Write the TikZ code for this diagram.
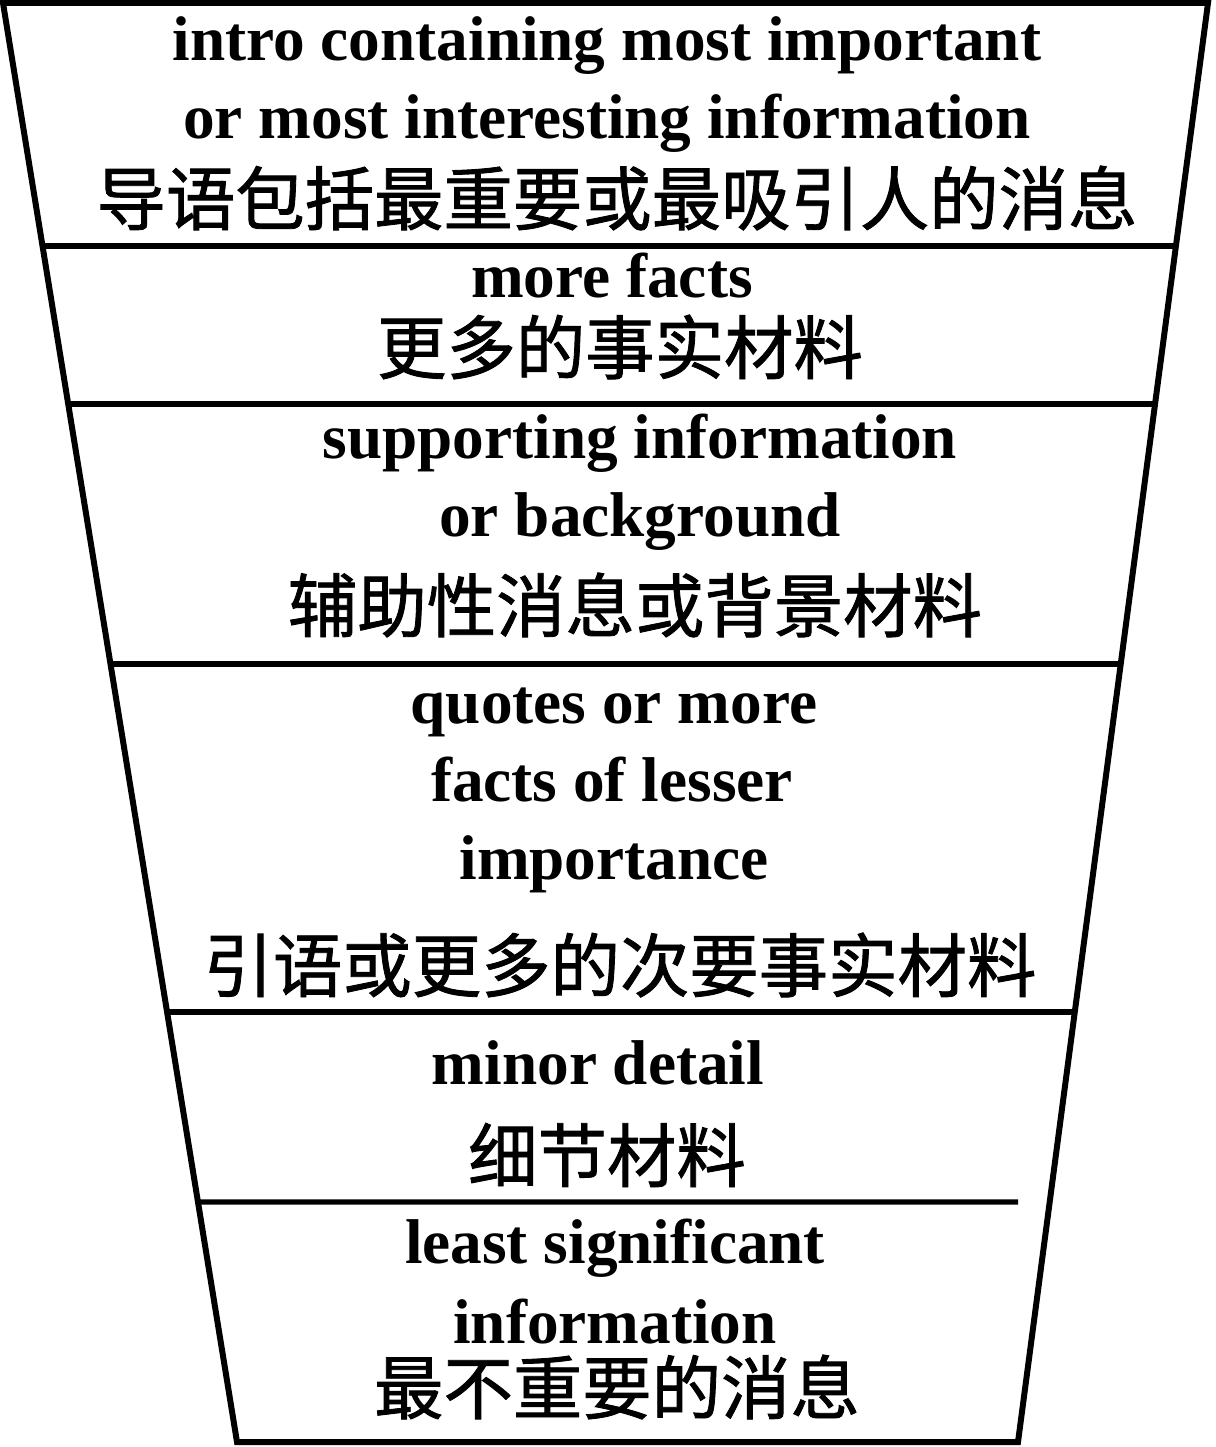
\documentclass[tikz,border=0pt]{standalone}
\usepackage{fontspec}
\setmainfont{Liberation Serif}
\newfontfamily\cjk[FakeBold=1.2]{Noto Sans CJK SC}
\usepackage{tikz}
\usetikzlibrary{calc}

\begin{document}
\begin{tikzpicture}[x=0.02cm, y=-0.02cm,
            en/.style={anchor=base, inner sep=0pt,
                       font=\fontsize{36}{40}\selectfont\bfseries},
            zh/.style={anchor=center, inner sep=0pt,
                       font=\fontsize{39.5}{44}\selectfont\cjk},
            edge/.style={line width=3.4pt, line join=miter},
            rule/.style={line width=3pt}
        ]
            \useasboundingbox (0,0) rectangle (1215,1447);

            % funnel outline
            \coordinate (tl) at (3,3);
            \coordinate (tr) at (1208,3);
            \coordinate (br) at (1018,1442);
            \coordinate (bl) at (237,1442);
            \draw[edge] (tl) -- (tr) -- (br) -- (bl) -- cycle;

            % dividers
            \coordinate (l1) at ($(tl)!0.1689!(bl)$);
            \coordinate (r1) at ($(tr)!0.1689!(br)$);
            \coordinate (l2) at ($(tl)!0.2787!(bl)$);
            \coordinate (r2) at ($(tr)!0.2787!(br)$);
            \coordinate (l3) at ($(tl)!0.4593!(bl)$);
            \coordinate (r3) at ($(tr)!0.4593!(br)$);
            \coordinate (l4) at ($(tl)!0.7012!(bl)$);
            \coordinate (r4) at ($(tr)!0.7012!(br)$);
            \coordinate (l5) at ($(tl)!0.8332!(bl)$);
            \coordinate (r5) at (1018,1202);
            \draw[rule] (l1) -- (r1);
            \draw[rule] (l2) -- (r2);
            \draw[rule] (l3) -- (r3);
            \draw[rule] (l4) -- (r4);
            \draw[rule] (l5) -- (r5);

            \node[en] (introA) at (607,60)  {intro containing most important};
            \node[en] (introB) at (607,138) {or most interesting information};
            \node[zh] (introC) at (617,198) {导语包括最重要或最吸引人的消息};

            \node[en] (factsA) at (612,297) {more facts};
            \node[zh] (factsB) at (620,347) {更多的事实材料};

            \node[en] (suppA) at (640,458) {supporting information};
            \node[en] (suppB) at (640,536) {or background};
            \node[zh] (suppC) at (635,605) {辅助性消息或背景材料};

            \node[en] (quoteA) at (614,723) {quotes or more};
            \node[en] (quoteB) at (612,801) {facts of lesser};
            \node[en] (quoteC) at (614,879) {importance};
            \node[zh] (quoteD) at (620,965) {引语或更多的次要事实材料};

            \node[en] (minorA) at (598,1084) {minor detail};
            \node[zh] (minorB) at (607,1155) {细节材料};

            \node[en] (leastA) at (615,1263) {least significant};
            \node[en] (leastB) at (615,1343) {information};
            \node[zh] (leastC) at (617,1387) {最不重要的消息};

        \end{tikzpicture}
\end{document}
